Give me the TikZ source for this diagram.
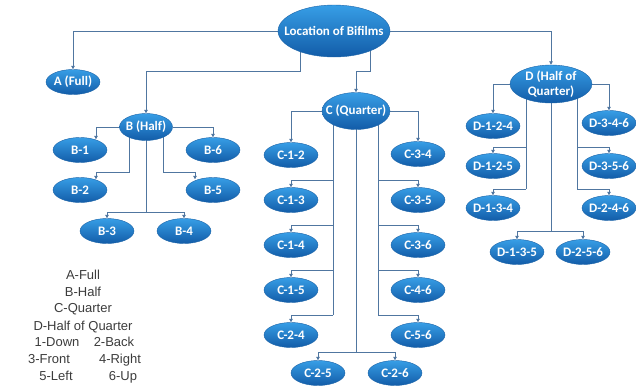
\documentclass[tikz,border=0pt]{standalone}
\usepackage{fontspec}
\usepackage{tikz}
\usetikzlibrary{calc, positioning, arrows.meta, shapes.geometric, backgrounds}
\newfontfamily\bubblefont{Carlito}
\newfontfamily\keyfont{Liberation Sans}
\definecolor{bubbleTop}{RGB}{55, 158, 230}
\definecolor{bubbleBot}{RGB}{18, 92, 168}
\definecolor{bubbleEdge}{RGB}{28, 100, 168}
\definecolor{linkBlue}{RGB}{80, 118, 160}
\definecolor{keyGray}{RGB}{60, 60, 60}

\tikzset{
  bubble/.style={ellipse, draw=bubbleEdge, line width=0.4pt, top color=bubbleTop, bottom color=bubbleBot,
    text=white, font=\bubblefont\bfseries\fontsize{13}{13}\selectfont, inner xsep=-12pt, inner ysep=0pt,
    minimum width=54pt, minimum height=25pt, align=center},
  link/.style={draw=linkBlue, line width=1pt, -{Triangle[length=3.5pt, width=3.5pt]}},
  trunk/.style={draw=linkBlue, line width=1pt},
  key/.style={text=keyGray, font=\keyfont\fontsize{13}{14}\selectfont, inner sep=0pt, text height=9.5pt, text depth=2.5pt}
}

\begin{document}
\begin{tikzpicture}[x=1pt, y=-1pt]
  \useasboundingbox (0,0) rectangle (636,388);

  % top levels
  \node[bubble, minimum width=112pt, minimum height=52pt] (root) at (334,31) {Location of Bifilms};
  \node[bubble] (A) at (73,82) {A (Full)};
  \node[bubble, minimum width=53pt, minimum height=27pt] (B) at (146,127) {B (Half)};
  \node[bubble, minimum width=68pt, minimum height=37pt] (C) at (356,111) {C (Quarter)};
  \node[bubble, minimum width=82pt, minimum height=38pt, font=\bubblefont\bfseries\fontsize{13}{14.5}\selectfont] (D) at (551,84) {D (Half of\\Quarter)};

  % B group
  \node[bubble] (b1) at (80,150) {B-1};
  \node[bubble] (b6) at (213,150) {B-6};
  \node[bubble] (b2) at (80,190) {B-2};
  \node[bubble] (b5) at (213,190) {B-5};
  \node[bubble] (b3) at (107,231) {B-3};
  \node[bubble] (b4) at (184,231) {B-4};

  % C group
  \node[bubble] (c12) at (291,155) {C-1-2};
  \node[bubble] (c13) at (291,200) {C-1-3};
  \node[bubble] (c14) at (291,245) {C-1-4};
  \node[bubble] (c15) at (291,290) {C-1-5};
  \node[bubble] (c24) at (291,335) {C-2-4};
  \node[bubble] (c34) at (418,154) {C-3-4};
  \node[bubble] (c35) at (418,200) {C-3-5};
  \node[bubble] (c36) at (418,245) {C-3-6};
  \node[bubble] (c46) at (418,290) {C-4-6};
  \node[bubble] (c56) at (418,335) {C-5-6};
  \node[bubble] (c25) at (318,373) {C-2-5};
  \node[bubble] (c26) at (395,373) {C-2-6};

  % D group
  \node[bubble] (d124) at (493,126) {D-1-2-4};
  \node[bubble] (d125) at (493,166) {D-1-2-5};
  \node[bubble] (d134) at (493,208) {D-1-3-4};
  \node[bubble] (d346) at (609,123) {D-3-4-6};
  \node[bubble] (d356) at (609,166) {D-3-5-6};
  \node[bubble] (d246) at (609,208) {D-2-4-6};
  \node[bubble] (d135) at (517,252) {D-1-3-5};
  \node[bubble] (d256) at (583,252) {D-2-5-6};

  % key
  \node[key] (kA) at (83,276) {A-Full};
  \node[key] (kB) at (83,293) {B-Half};
  \node[key] (kC) at (83,309) {C-Quarter};
  \node[key] (kD) at (83,327) {D-Half of Quarter};
  \node[key] (k1) at (57,343) {1-Down};
  \node[key] (k2) at (114,343) {2-Back};
  \node[key] (k3) at (49,360) {3-Front};
  \node[key] (k4) at (120,360) {4-Right};
  \node[key] (k5) at (56,377) {5-Left};
  \node[key] (k6) at (123,377) {6-Up};

  \begin{scope}[on background layer]
    \draw[link] (root.west) -| (A.north);
    \draw[link] ([xshift=-34pt]root.center) -- ++(0,40) -| (B.north);
    \draw[link] ([xshift=36pt]root.center) -- ++(0,40) -| (C.north);
    \draw[link] (root.east) -| (D.north);

    % B
    \draw[link] (B.west) -| ([shift={(16pt,-2pt)}]b1.north);
    \draw[link] (B.east) -| (b6.north);
    \draw[link] ([xshift=-17pt]B.center) -- ++(0,45) -| ([shift={(16pt,-2pt)}]b2.north);
    \draw[link] ([xshift=17pt]B.center) -- ++(0,45) -| ([shift={(-18pt,-2pt)}]b5.north);
    \draw[trunk] (B.center) -- ++(0,85) coordinate (bFork);
    \draw[link] (bFork) -| (b3.north);
    \draw[link] (bFork) -| (b4.north);

    % C
    \draw[link] (C.west) -| (c12.north);
    \draw[link] (C.east) -| (c34.north);
    \coordinate (cL) at ([xshift=-23pt]C.center);
    \coordinate (cR) at ([xshift=22pt]C.center);
    \draw[trunk] (cL) -- ($(c24.north -| cL)+(0,-7)$);
    \foreach \n in {c13,c14,c15,c24}
      \draw[link] ($(\n.north -| cL)+(0,-7)$) -| (\n.north);
    \draw[trunk] (cR) -- ($(c56.north -| cR)+(0,-7)$);
    \foreach \n in {c35,c36,c46,c56}
      \draw[link] ($(\n.north -| cR)+(0,-7)$) -| (\n.north);
    \draw[trunk] (C.center) -- ($(c25.north -| C.center)+(0,-8)$) coordinate (cFork);
    \draw[link] (cFork) -| (c25.north);
    \draw[link] (cFork) -| (c26.north);

    % D
    \draw[link] (D.west) -| (d124.north);
    \draw[link] (D.east) -| (d346.north);
    \coordinate (dL) at ([xshift=-25pt]D.center);
    \coordinate (dR) at ([xshift=26pt]D.center);
    \draw[trunk] (dL) -- ($(d134.north -| dL)+(0,-6)$);
    \foreach \n in {d125,d134}
      \draw[link] ($(\n.north -| dL)+(0,-6)$) -| (\n.north);
    \draw[trunk] (dR) -- ($(d246.north -| dR)+(0,-6)$);
    \foreach \n in {d356,d246}
      \draw[link] ($(\n.north -| dR)+(0,-6)$) -| (\n.north);
    \draw[trunk] (D.center) -- ($(d135.north -| D.center)+(0,-8)$) coordinate (dFork);
    \draw[link] (dFork) -| (d135.north);
    \draw[link] (dFork) -| (d256.north);
  \end{scope}
\end{tikzpicture}
\end{document}
